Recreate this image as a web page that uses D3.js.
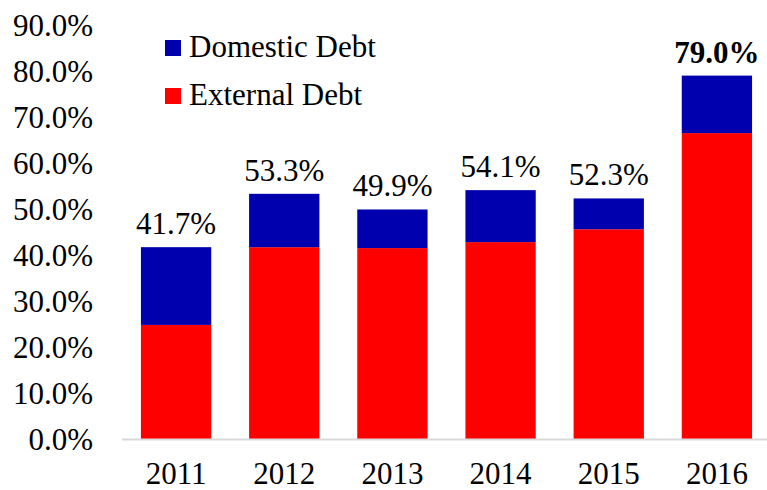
<!DOCTYPE html>
<html>
<head>
<meta charset="utf-8">
<script src="https://cdn.jsdelivr.net/npm/d3@7"></script>
<style>
  body { margin: 0; background: #fff; }
  svg text { font-family: 'Times New Roman', 'Liberation Serif', 'DejaVu Serif', serif; fill: #000; }
</style>
</head>
<body>
<div id="chart"></div>
<script>
const years = ['2011', '2012', '2013', '2014', '2015', '2016']
const externalDebt = [24.8, 41.7, 41.5, 42.8, 45.6, 66.5]
const totalDebt = [41.7, 53.3, 49.9, 54.1, 52.3, 79.0]
const domesticDebt = totalDebt.map((t, i) => +(t - externalDebt[i]).toFixed(1))
const yTicks = [0, 10, 20, 30, 40, 50, 60, 70, 80, 90]
const seriesNames = ['Domestic Debt', 'External Debt']
const colors = {'Domestic Debt': '#0000ae', 'External Debt': '#ff0000'}

const serif = "'Times New Roman', 'Liberation Serif', 'DejaVu Serif', serif"
const fontSize = 31
const width = 767, height = 490
const margin = {top: 25, right: -4, bottom: 51, left: 122}

const svg = d3.select('#chart').append('svg')
  .attr('width', width)
  .attr('height', height)
  .attr('font-family', serif)

const xScale = d3.scaleBand()
  .domain(years)
  .range([margin.left, width - margin.right])
  .paddingInner(0.35)
  .paddingOuter(0.175)

const yScale = d3.scaleLinear()
  .domain([0, 90])
  .range([height - margin.bottom, margin.top])

const rows = years.map((y, i) => ({year: y, external: externalDebt[i], domestic: domesticDebt[i], total: totalDebt[i]}))
const stack = d3.stack().keys(['external', 'domestic'])(rows)

// y axis labels
const yAxis = d3.axisLeft(yScale)
  .tickValues(yTicks)
  .tickFormat(d => d.toFixed(1) + '%')
  .tickSize(0)
  .tickPadding(0)
svg.append('g')
  .attr('transform', 'translate(93, 0)')
  .call(yAxis)
  .attr('font-family', serif)
  .attr('font-size', fontSize)
  .call(g => g.select('.domain').remove())
  .selectAll('text')
  .attr('dy', '0.34em')

// bars
svg.append('g').selectAll('g')
  .data(stack)
  .enter().append('g')
  .attr('fill', d => d.key == 'external' ? colors['External Debt'] : colors['Domestic Debt'])
  .selectAll('rect')
  .data(d => d)
  .enter().append('rect')
  .attr('x', d => xScale(d.data.year))
  .attr('y', d => yScale(d[1]))
  .attr('width', xScale.bandwidth())
  .attr('height', d => yScale(d[0]) - yScale(d[1]))

// x axis line + labels
svg.append('line')
  .attr('x1', margin.left)
  .attr('x2', width)
  .attr('y1', yScale(0) + 0.5)
  .attr('y2', yScale(0) + 0.5)
  .attr('stroke', '#d9d9d9')
  .attr('stroke-width', 2)

const xAxis = d3.axisBottom(xScale).tickSize(0).tickPadding(0)
svg.append('g')
  .attr('transform', `translate(0, ${yScale(0)})`)
  .call(xAxis)
  .attr('font-family', serif)
  .attr('font-size', fontSize)
  .call(g => g.select('.domain').remove())
  .selectAll('text')
  .attr('y', 45)
  .attr('dy', 0)

// total labels
svg.append('g').selectAll('text')
  .data(rows)
  .enter().append('text')
  .attr('x', d => xScale(d.year) + xScale.bandwidth() / 2)
  .attr('y', d => yScale(d.total) - 13)
  .attr('text-anchor', 'middle')
  .attr('font-size', fontSize)
  .attr('font-weight', (d, i) => i == rows.length - 1 ? 'bold' : 'normal')
  .text(d => d.total.toFixed(1) + '%')

// legend
const legend = svg.append('g').attr('transform', 'translate(165, 40)')
const item = legend.selectAll('g')
  .data(seriesNames)
  .enter().append('g')
  .attr('transform', (d, i) => `translate(0, ${i * 48})`)
item.append('rect')
  .attr('width', 16)
  .attr('height', 16)
  .attr('fill', d => colors[d])
item.append('text')
  .attr('x', 24)
  .attr('y', 17)
  .attr('font-size', fontSize)
  .text(d => d)
</script>
</body>
</html>
